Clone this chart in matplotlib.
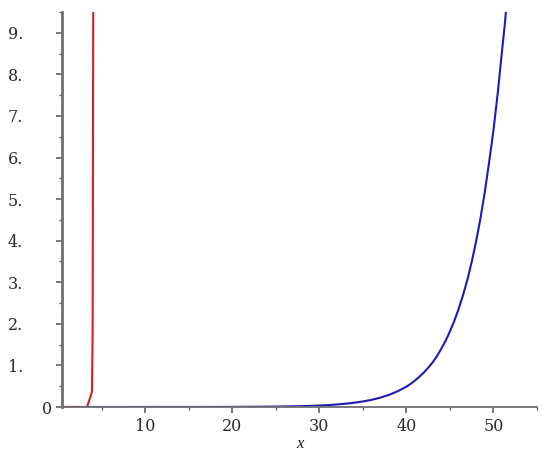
import matplotlib
matplotlib.use("Agg")
import matplotlib.pyplot as plt
from matplotlib.ticker import MultipleLocator

# Red curve
red_x = [0.43, 3.3, 3.87, 3.95, 4.02]
red_y = [0.0, 0.0, 0.36, 1.85, 9.6]

# Blue curve
blue_x = [0.43, 5, 10, 15, 20, 25, 28, 30, 31, 32, 33, 34, 35, 36, 37, 38, 39, 40,
          40.5, 41, 41.5, 42, 42.5, 43, 43.5, 44, 44.5, 45, 45.5, 46, 46.5, 47,
          47.5, 48, 48.5, 49, 49.5, 50, 50.5, 51, 51.3, 51.6]
blue_y = [0.0, 0.0, 0.0002, 0.0008, 0.003, 0.01, 0.02, 0.036, 0.046, 0.061, 0.079,
          0.103, 0.133, 0.173, 0.225, 0.292, 0.38, 0.49,
          0.56, 0.64, 0.73, 0.83, 0.945, 1.07, 1.22, 1.40, 1.59, 1.82, 2.07, 2.36,
          2.69, 3.06, 3.49, 3.98, 4.53, 5.17, 5.89, 6.66, 7.57, 8.6, 9.2, 9.9]

x_ticks = [10, 20, 30, 40, 50]
x_ticklabels = ["10", "20", "30", "40", "50"]
y_ticks = [0, 1, 2, 3, 4, 5, 6, 7, 8, 9]
y_ticklabels = ["0", "1.", "2.", "3.", "4.", "5.", "6.", "7.", "8.", "9."]

fig = plt.figure(figsize=(5.5, 4.55), dpi=100)
ax = fig.add_axes([62/550, 48/455, (537-62)/550, (407-12)/455])

ax.plot(blue_x, blue_y, color="#1c1cb4", lw=1.5, solid_capstyle="butt")
ax.plot(red_x, red_y, color="#d42020", lw=1.5, solid_capstyle="butt")

ax.set_xlim(0.43, 55)
ax.set_ylim(0, 9.5)

for s in ["top", "right"]:
    ax.spines[s].set_visible(False)
ax.spines["left"].set_color("#6e6e6e")
ax.spines["left"].set_linewidth(2.0)
ax.spines["bottom"].set_color("#6e6e6e")
ax.spines["bottom"].set_linewidth(1.3)

serif = ["DejaVu Serif"]
ax.set_xticks(x_ticks)
ax.set_xticklabels(x_ticklabels, family=serif, fontsize=11.5, color="#2a2a2a")
ax.xaxis.set_minor_locator(MultipleLocator(5))
ax.set_yticks(y_ticks)
ax.set_yticklabels(y_ticklabels, family=serif, fontsize=11.5, color="#2a2a2a")
ax.yaxis.set_minor_locator(MultipleLocator(0.5))

ax.tick_params(axis="both", which="major", length=4, width=1.1, color="#555555", direction="out")
ax.tick_params(axis="both", which="minor", length=2.5, width=0.9, color="#555555", direction="out")
ax.tick_params(axis="x", which="major", pad=4)

for t, lab in zip(ax.yaxis.get_major_ticks(), y_ticklabels):
    t.set_pad(3 if lab == "0" else 24)

ax.set_xlabel("x", family=["Liberation Serif"], style="italic", fontsize=12, labelpad=1, color="#222222")

fig.savefig("out.png", dpi=100)
